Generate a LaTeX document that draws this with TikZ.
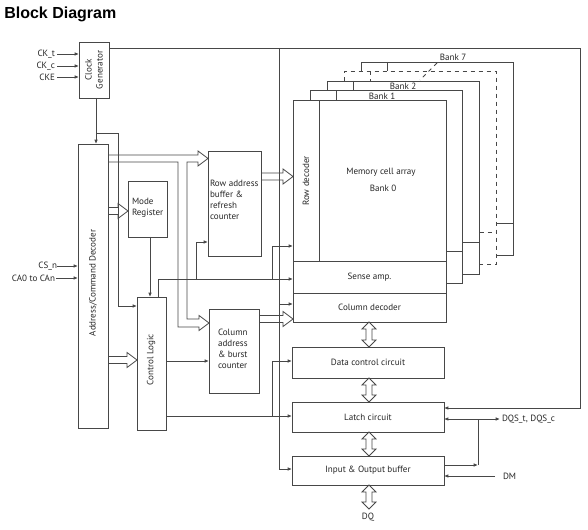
\documentclass[tikz,border=0pt]{standalone}
\usepackage{fontspec}
\setmainfont{PT Sans}
\newfontfamily\titlefont{Liberation Sans}
\usetikzlibrary{arrows.meta}
\newcommand\blk[6]{\node[box, minimum width={(#4-#2)*0.75pt}, minimum height={(#5-#3)*0.75pt}] (#1) at (#2,#3) {#6};}
\newcommand\hollowR[3]{\draw[hollow] (#1,#3-3.5) -- (#2-10,#3-3.5) -- (#2-10,#3-7.5) -- (#2,#3) -- (#2-10,#3+7.5) -- (#2-10,#3+3.5) -- (#1,#3+3.5);}
\newcommand\hollowV[3]{\draw[hollow] (#1-3,#2+7) -- (#1-7,#2+7) -- (#1,#2) -- (#1+7,#2+7) -- (#1+3,#2+7) -- (#1+3,#3-7) -- (#1+7,#3-7) -- (#1,#3) -- (#1-7,#3-7) -- (#1-3,#3-7) -- cycle;}
\begin{document}
\begin{tikzpicture}[x=0.75pt,y=-0.75pt,
  ln/.style={draw=black!72, line width=0.6pt},
  box/.style={ln, rectangle, inner sep=0pt, outer sep=0pt, anchor=north west, align=center, font=\fontsize{6.8}{8.3}\selectfont, text=black!85},
  arr/.style={ln, -{Latex[length=3.2pt,width=2.6pt]}},
  biarr/.style={ln, {Latex[length=3.2pt,width=2.6pt]}-{Latex[length=3.2pt,width=2.6pt]}},
  hollow/.style={draw=black!72, line width=0.6pt, line join=miter},
  lbl/.style={font=\fontsize{6.8}{8.3}\selectfont, text=black!85, inner sep=0pt, outer sep=0pt},
]
\useasboundingbox (0,0) rectangle (588,530);
\node[anchor=west, inner sep=0pt, font=\titlefont\bfseries\fontsize{12}{14}\selectfont] (title) at (4,14) {Block Diagram};

% boxes
\blk{clk}{79}{42}{109}{98}{}
\blk{dec}{78}{144}{108}{428}{}
\blk{mode}{128}{181}{167}{237}{}
\blk{ctrl}{137}{297}{166}{430}{}
\blk{rowbuf}{208}{151}{261}{256}{}
\blk{colbuf}{209}{309}{259}{393}{}
\blk{rowdec}{293}{100}{319}{261}{}
\blk{array}{319}{100}{446}{261}{}
\blk{sense}{293}{261}{446}{293}{Sense amp.}
\blk{coldec}{293}{293}{446}{322}{Column decoder}
\blk{datactl}{292}{347}{444}{378}{Data control circuit}
\blk{latch}{292}{402}{444}{432}{Latch circuit}
\blk{iobuf}{292}{456}{444}{485}{Input \& Output buffer}

% box texts
\node[lbl, rotate=90, align=center] at (clk) {Clock\\Generator};
\node[lbl, rotate=90] at (93,283) {Address/Command Decoder};
\node[lbl, anchor=west, align=left] at (132,208) {Mode\\Register};
\node[lbl, rotate=90] at (151,360) {Control Logic};
\node[lbl, anchor=west, align=left] at (210,200) {Row address\\buffer \&\\refresh\\counter};
\node[lbl, anchor=west, align=left] at (218,349) {Column\\address\\\& burst\\counter};
\node[lbl, rotate=90] at (306,181) {Row decoder};
\node[lbl] at (381,172) {Memory cell array};
\node[lbl] at (383,188) {Bank 0};

% stacked banks
\foreach \i in {1,...,4}{
  \pgfmathsetmacro\l{293+17*\i}
  \pgfmathsetmacro\t{100-9.5*\i}
  \pgfmathsetmacro\r{446+16.75*\i}
  \pgfmathsetmacro\b{293-9.5*\i}
  \pgfmathsetmacro\s{261-9.5*\i}
  \pgfmathsetmacro\pt{\t+9.5}
  \pgfmathsetmacro\pr{\r-16.75}
  \pgfmathsetmacro\d{\l+26}
  \ifnum\i=3 \def\bst{dashed}\else\def\bst{solid}\fi
  \draw[ln, \bst] (\l,\pt) -- (\l,\t) -- (\r,\t) -- (\r,\b) -- (\pr,\b);
  \draw[ln, \bst] (\d,\t) -- (\d,\pt);
  \draw[ln, \bst] (\pr,\s) -- (\r,\s);
}
\node[lbl] (b1) at (382,96) {Bank 1};
\node[lbl] (b2) at (403,86) {Bank 2};
\node[lbl] (b7) at (453,57) {Bank 7};
\draw[ln, dashed] (437,63) -- (420,80);

% inputs
\node[lbl, anchor=east] (ckt) at (55,54) {CK\_t};
\node[lbl, anchor=east] (ckc) at (55,66) {CK\_c};
\node[lbl, anchor=east] (cke) at (55,77) {CKE};
\draw[arr] ([xshift=1.5pt]ckt.east) -- (clk.west |- ckt);
\draw[arr] ([xshift=1.5pt]ckc.east) -- (clk.west |- ckc);
\draw[arr] ([xshift=1.5pt]cke.east) -- (clk.west |- cke);
\node[lbl, anchor=east] (csn) at (57,266) {CS\_n};
\node[lbl, anchor=east] (can) at (55,278) {CA0 to CAn};
\draw[arr] (csn.east) -- (dec.west |- csn);
\draw[arr] ([xshift=1pt]can.east) -- (dec.west |- can);

% clock distribution
\draw[arr] (clk.south -| 96,0) -- (dec.north -| 96,0);
\draw[arr] (96,133) -- (118,133) -- (118,306) -- (ctrl.west |- 0,306);
\draw[arr] (clk.east |- 0,48) -- (580,48) -- (580,408) -- (latch.east |- 0,408);
\draw[arr] (279,48) -- (279,469) -- (iobuf.west |- 0,469);
\draw[arr] (279,304) -- (coldec.west |- 0,304);

% control connections
\draw[arr] (mode.south -| 150,0) -- (ctrl.north -| 150,0);
\draw[arr] (ctrl.north -| 158,0) -- (158,279) -- (sense.west |- 0,279);
\draw[arr] (196,279) -- (196,242) -- (rowbuf.west |- 0,242);
\draw[arr] (272,279) -- (272,246) -- (rowdec.west |- 0,246);
\draw[arr] (ctrl.east |- 0,361) -- (colbuf.west |- 0,361);
\draw[arr] (ctrl.east |- 0,416) -- (latch.west |- 0,416);
\draw[arr] (272,416) -- (272,361) -- (datactl.west |- 0,361);

% buses
\draw[hollow] (108,155) -- (198,155) -- (198,151) -- (208,158.5) -- (198,166) -- (198,162) -- (187,162) -- (187,319) -- (199,319) -- (199,315.5) -- (209,323) -- (199,330.5) -- (199,327) -- (178,327) -- (178,162) -- (108,162);
\hollowR{108}{128}{211}
\hollowR{108}{137}{360}
\hollowR{261}{293}{176.5}
\hollowR{259}{293}{319}

% data path
\hollowV{369}{322}{347}
\hollowV{369}{378}{402}
\hollowV{369}{432}{456}
\node[lbl] (dq) at (368,517) {DQ};
\hollowV{369}{485}{509}

% DQS / DM
\node[lbl, anchor=west] (dqs) at (502,419) {DQS\_t, DQS\_c};
\draw[biarr] (latch.east |- dqs) -- ([xshift=-1.5pt]dqs.west);
\draw[arr] (iobuf.east |- 0,465) -- (478,465);
\draw[ln] (478,465) -- (478,419);
\node[lbl, anchor=west] (dm) at (503,476) {DM};
\draw[arr] ([xshift=-6pt]dm.west) -- (iobuf.east |- dm);
\end{tikzpicture}
\end{document}
